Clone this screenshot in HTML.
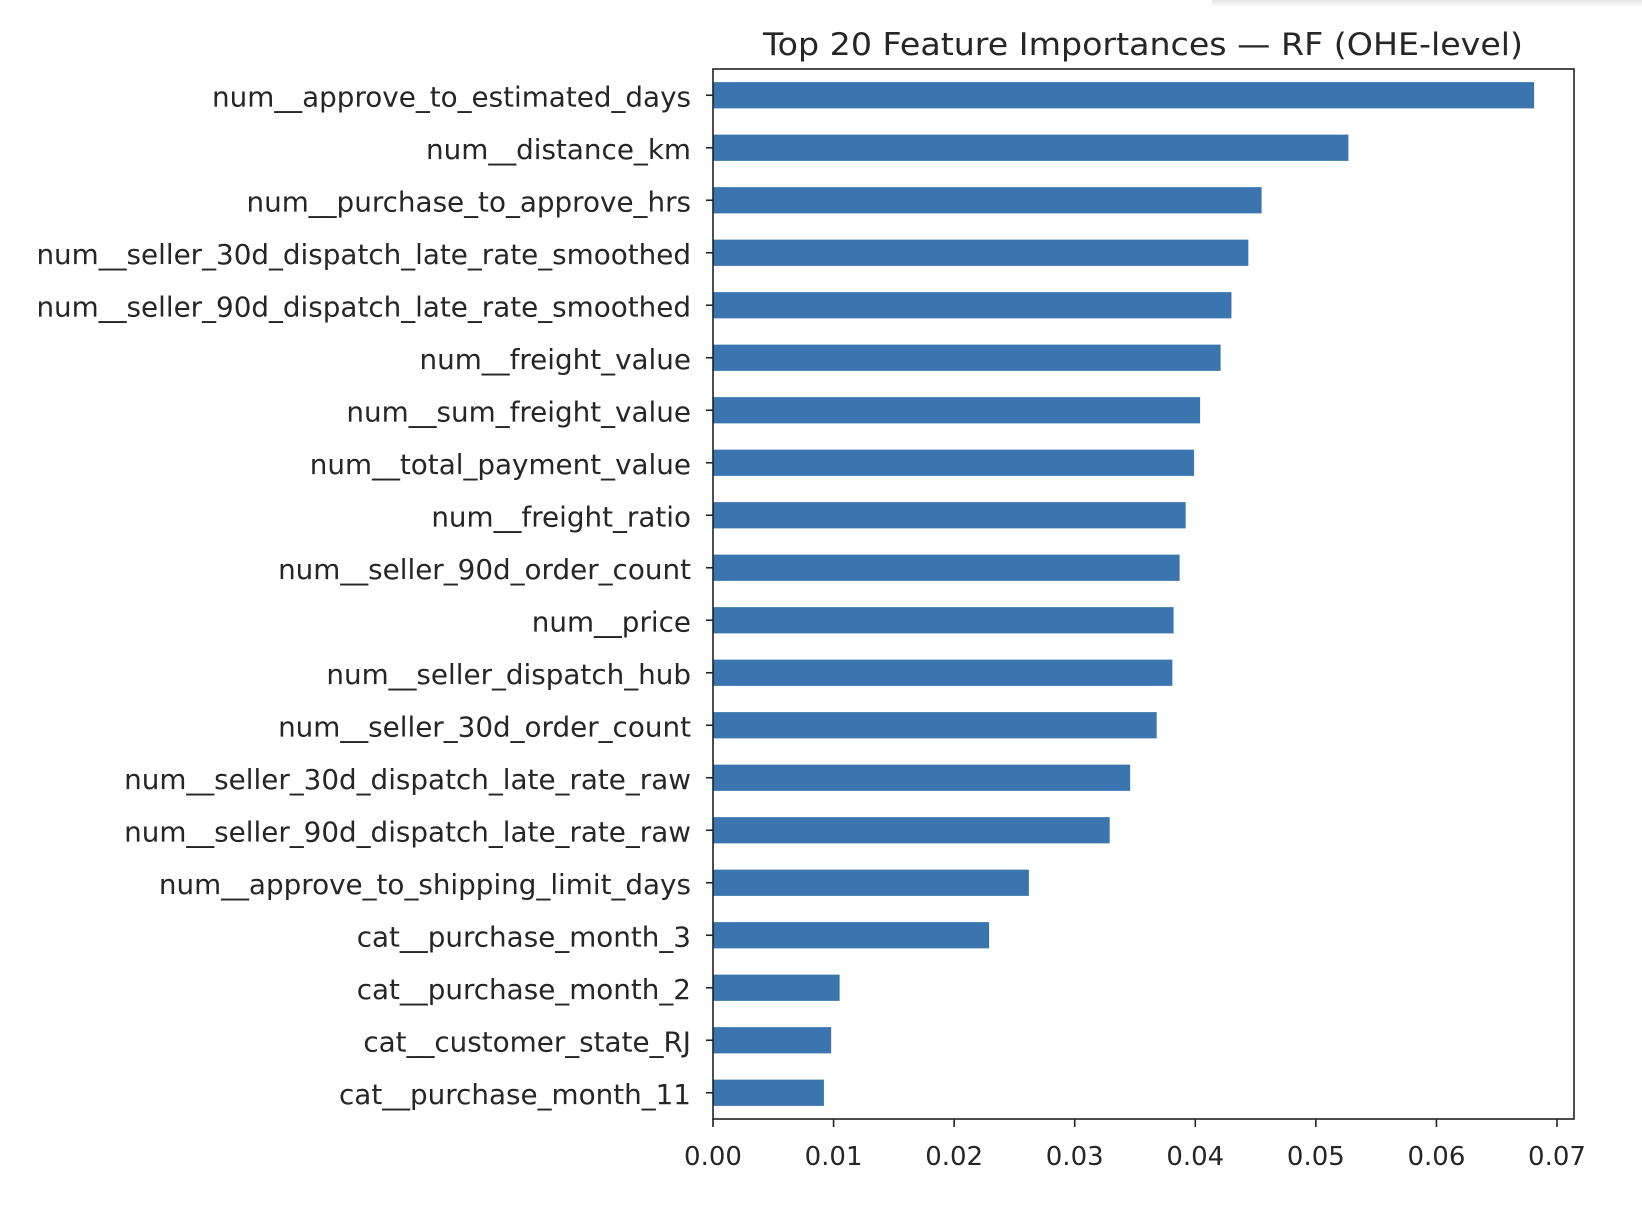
<!DOCTYPE html>
<html><head><meta charset="utf-8"><style>
html,body{margin:0;padding:0;background:#fff;}
svg text{font-family:"DejaVu Sans","Liberation Sans",sans-serif;fill:#262626;}
</style></head><body>
<svg id="chart" width="1642" height="1208" xmlns="http://www.w3.org/2000/svg">
<defs><linearGradient id="sh" x1="0" y1="0" x2="0" y2="1"><stop offset="0" stop-color="#e4e4e4"/><stop offset="1" stop-color="#fff"/></linearGradient></defs>
<rect x="1212" y="0" width="430" height="7" fill="url(#sh)"/>
<text x="1143" y="55" font-size="31" text-anchor="middle" textLength="760" lengthAdjust="spacingAndGlyphs">Top 20 Feature Importances — RF (OHE-level)</text>
<g id="bars"></g>
<g id="yticks"></g>
<g id="xticks"></g>
<rect x="713" y="69" width="861" height="1050" fill="none" stroke="#222" stroke-width="1.6"/>
</svg>
<script>
const features = ["num__approve_to_estimated_days","num__distance_km","num__purchase_to_approve_hrs","num__seller_30d_dispatch_late_rate_smoothed","num__seller_90d_dispatch_late_rate_smoothed","num__freight_value","num__sum_freight_value","num__total_payment_value","num__freight_ratio","num__seller_90d_order_count","num__price","num__seller_dispatch_hub","num__seller_30d_order_count","num__seller_30d_dispatch_late_rate_raw","num__seller_90d_dispatch_late_rate_raw","num__approve_to_shipping_limit_days","cat__purchase_month_3","cat__purchase_month_2","cat__customer_state_RJ","cat__purchase_month_11"];
const importances = [0.0681,0.0527,0.0455,0.0444,0.0430,0.0421,0.0404,0.0399,0.0392,0.0387,0.0382,0.0381,0.0368,0.0346,0.0329,0.0262,0.0229,0.0105,0.0098,0.0092];
const xTicks = [0,0.01,0.02,0.03,0.04,0.05,0.06,0.07];
const xTickLabels = ["0.00","0.01","0.02","0.03","0.04","0.05","0.06","0.07"];

const NS="http://www.w3.org/2000/svg";
const L=713,R=1574,T=69,B=1119;
const xScale=v=>L+v*(1557-713)/0.07;
const n=features.length;
const step=(B-T)/n;
const yCenter=i=>T+step*(i+0.5);
const bars=document.getElementById('bars'),yt=document.getElementById('yticks'),xt=document.getElementById('xticks');
function mk(tag,attrs,parent){const e=document.createElementNS(NS,tag);for(const k in attrs)e.setAttribute(k,attrs[k]);parent.appendChild(e);return e;}
features.forEach((f,i)=>{
  const cy=yCenter(i),h=step*0.5;
  const r=mk('rect',{x:xScale(0),y:cy-h/2,width:xScale(importances[i])-xScale(0),height:h,fill:'#3a75af'},bars);
  
  
  const tk=mk('line',{x1:L-7,x2:L,y1:cy,y2:cy,stroke:'#222','stroke-width':1.6},yt);
  
  
  const t=mk('text',{x:L-22,y:cy+11,'font-size':27.8,'text-anchor':'end'},yt);
  t.textContent=f;
  
  
});
xTicks.forEach((v,i)=>{
  const x=xScale(v);
  const tk=mk('line',{x1:x,x2:x,y1:B,y2:B+8,stroke:'#222','stroke-width':1.6},xt);
  
  
  const t=mk('text',{x:x,y:B+46,'font-size':26,'text-anchor':'middle'},xt);
  t.textContent=xTickLabels[i];
  
  
});
</script>
</body></html>
